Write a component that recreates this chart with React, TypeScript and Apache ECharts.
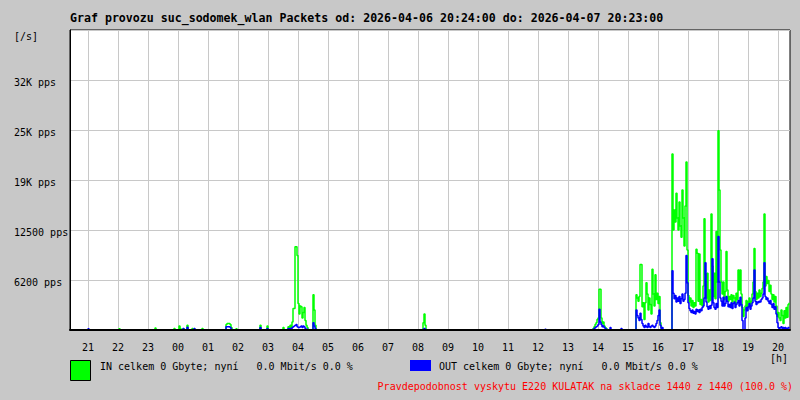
import React, { useEffect, useRef } from "react";
import * as echarts from "echarts";

// ---------- texts ----------
const TITLE =
  "Graf provozu suc_sodomek_wlan Packets od: 2026-04-06 20:24:00 do: 2026-04-07 20:23:00";
const Y_UNIT = "[/s]";
const X_UNIT = "[h]";
const IN_LEGEND = "IN celkem 0 Gbyte; nyní   0.0 Mbit/s 0.0 %";
const OUT_LEGEND = "OUT celkem 0 Gbyte; nyní   0.0 Mbit/s 0.0 %";
const FOOTNOTE = "Pravdepodobnost vyskytu E220 KULATAK na skladce 1440 z 1440 (100.0 %)";

// ---------- axes ----------
const SPAN_MIN = 1440; // graph spans 24h from 20:24
const STEP_MIN = 2; // one sample every 2 minutes
const hourLabels = [
  "21", "22", "23", "00", "01", "02", "03", "04", "05", "06", "07", "08",
  "09", "10", "11", "12", "13", "14", "15", "16", "17", "18", "19", "20",
];
const firstFullHourMin = 36; // 21:00 is 36 minutes after 20:24
const Y_MAX = 37500;
const Y_STEP = 6250;
const yTickValues = [6250, 12500, 18750, 25000, 31250];
const yTickLabels = ["6200 pps", "12500 pps", "19K pps", "25K pps", "32K pps"];

// ---------- data (minutes after 20:24, packets per second) ----------
// small night blips: [minute, in, out]
const nightBlips: [number, number, number][] = [
  [36, 0, 150], [98, 150, 0], [170, 250, 0], [208, 200, 0], [218, 500, 0],
  [220, 200, 0], [226, 150, 200], [234, 600, 350], [244, 200, 0], [248, 100, 200],
  [264, 200, 0], [332, 150, 0], [380, 600, 300], [394, 500, 200], [426, 300, 0],
  [950, 0, 100], [1080, 0, 300], [1102, 0, 200],
];
const start0135 = 312;
const in0135 = [700, 800, 800, 800, 700, 300];
const out0135 = [400, 400, 400, 400, 300, 100];

const start0400 = 436;
const in0400 = [400, 300, 600, 300, 1000, 2700, 2700, 10400, 10400, 9300, 3300, 2000, 3000, 2900, 1500, 2200, 2800, 1200, 600, 300, 0, 0, 0, 0, 0, 4400, 2500, 600];
const out0400 = [200, 0, 200, 100, 300, 400, 500, 600, 700, 400, 300, 300, 400, 500, 300, 500, 400, 200, 100, 100, 0, 0, 0, 0, 0, 900, 500, 200];

const start0800 = 706;
const in0800 = [900, 2000, 600];
const out0800 = [100, 200, 100];

const start1400 = 1046;
const in1400 = [200, 400, 700, 900, 1300, 1500, 5100, 5100, 1500, 800, 1000, 500, 300, 200];
const out1400 = [100, 200, 300, 400, 500, 700, 2600, 1000, 700, 400, 500, 300, 200, 100];

const start1516 = 1132;
const in1516 = [4400, 4000, 3600, 4200, 8200, 8200, 2900, 3400, 1300, 3400, 5900, 4500, 2500, 4000, 3200, 2000, 7600, 4500, 3000, 6900, 3800, 4600, 3300, 4200, 900, 300, 0];
const out1516 = [2500, 1800, 1500, 1200, 2100, 1300, 800, 500, 300, 600, 400, 300, 800, 400, 300, 500, 600, 400, 300, 500, 800, 1200, 1800, 2500, 600, 200, 300];

const start1628 = 1204;
const in1628 = [
  22000, 12500, 15000, 13500, 17100, 14000, 12500, 16000, 13000, 11600,
  17500, 14000, 10500, 15500, 21000, 10000, 4300, 3500, 4000, 3000,
  3700, 2800, 3400, 3000, 10100, 9600, 3600, 9500, 3200, 3800,
  3000, 5500, 13900, 7000, 4000, 7100, 3500, 5000, 3700, 14500,
  8000, 4200, 7100, 3900, 12300, 6000, 24900, 17500, 10000, 6000,
  4500, 6000, 3800, 4800, 9800, 5000, 3600, 4200,
];
const out1628 = [
  7400, 4600, 3900, 4300, 3500, 4000, 3600, 4200, 3300, 3900,
  4500, 3600, 3800, 4600, 9300, 5900, 3400, 2700, 2400, 2200,
  2500, 2100, 2300, 2000, 2600, 2300, 2500, 2200, 2600, 2400,
  2800, 3000, 4000, 8400, 3500, 2900, 2600, 3000, 2700, 3100,
  8900, 3400, 2800, 2600, 3300, 2800, 11700, 6000, 4000, 3600,
  3000, 4100, 3000, 3300, 4200, 3600, 2900, 3200,
];

const start1824 = 1320;
const in1824 = [
  3800, 4400, 3500, 4300, 4000, 3300, 4600, 3800, 7500, 5000,
  7500, 4500, 2800, 1700, 2500, 3000, 3700, 2800, 3500, 4000,
  3200, 3600, 4500, 6000, 10200, 4800, 3800, 4600, 4000, 5000,
  4200, 4600, 5200, 6000, 14500, 5500, 6700, 5800, 6200, 4800,
  5600, 4500, 3800, 4400, 3500, 4200, 3000, 1700, 2200, 1500,
  1200, 2500, 1800, 800, 2400, 1500, 2800, 1600, 3200, 3400,
];
const out1824 = [
  2800, 3400, 2700, 3300, 3500, 2800, 3200, 3400, 3700, 3000,
  4100, 3200, 1200, 0, 0, 1500, 2800, 2400, 2900, 3300,
  2600, 3000, 3400, 4000, 7500, 3600, 3200, 3500, 3400, 3600,
  3500, 3800, 4000, 4500, 8400, 4200, 3800, 4000, 3600, 3300,
  3700, 3200, 2800, 3300, 2600, 2900, 2000, 900, 300, 0,
  300, 400, 200, 300, 200, 300, 200, 100, 300, 200,
];

const inBursts: [number, number[]][] = [
  [start0135, in0135], [start0400, in0400], [start0800, in0800],
  [start1400, in1400], [start1516, in1516], [start1628, in1628], [start1824, in1824],
];
const outBursts: [number, number[]][] = [
  [start0135, out0135], [start0400, out0400], [start0800, out0800],
  [start1400, out1400], [start1516, out1516], [start1628, out1628], [start1824, out1824],
];

function buildSeries(bursts: [number, number[]][], blipIdx: 1 | 2) {
  const n = SPAN_MIN / STEP_MIN;
  const vals: number[] = new Array(n).fill(0);
  for (const b of nightBlips) vals[b[0] / STEP_MIN] = b[blipIdx];
  for (const [start, arr] of bursts) {
    arr.forEach((v, i) => {
      vals[start / STEP_MIN + i] = v;
    });
  }
  return vals.map((v, i) => [i * STEP_MIN, v]);
}

const MONO = "'DejaVu Sans Mono', 'Liberation Mono', monospace";

export default function App() {
  const ref = useRef<HTMLDivElement>(null);
  useEffect(() => {
    if (!ref.current) return;
    const chart = echarts.init(ref.current, undefined, { renderer: "svg" });
    const hourTickMinutes = hourLabels.map((_, i) => firstFullHourMin + 60 * i);
    const yLabelMap: Record<number, string> = {};
    yTickValues.forEach((v, i) => (yLabelMap[v] = yTickLabels[i]));

    chart.setOption({
      animation: false,
      backgroundColor: "#c8c8c8",
      grid: {
        left: 70,
        right: 10,
        top: 30,
        bottom: 70,
        show: true,
        backgroundColor: "#ffffff",
        borderColor: "#000000",
        borderWidth: 1,
      },
      xAxis: [
        {
          type: "value",
          position: "bottom",
          min: 0,
          max: SPAN_MIN,
          axisLine: { show: false },
          axisTick: { show: false, customValues: hourTickMinutes },
          axisLabel: {
            customValues: hourTickMinutes,
            margin: 13,
            lineHeight: 8,
            fontFamily: MONO,
            fontSize: 10,
            color: "#000",
            formatter: (v: number) => {
              const idx = hourTickMinutes.indexOf(v);
              return idx >= 0 ? hourLabels[idx] : "";
            },
          },
          splitLine: { show: true, lineStyle: { color: "#c8c8c8", width: 1 } },
        },
        {
          type: "value",
          position: "bottom",
          min: 0,
          max: SPAN_MIN,
          z: 10,
          axisLine: { show: true, lineStyle: { color: "#000", width: 2 } },
          axisTick: { show: false },
          axisLabel: { show: false },
          splitLine: { show: false },
        },
      ],
      yAxis: {
        type: "value",
        min: 0,
        max: Y_MAX,
        interval: Y_STEP,
        axisLine: { show: true, lineStyle: { color: "#000", width: 1 } },
        axisTick: { show: false },
        axisLabel: {
          align: "left",
          verticalAlign: "top",
          lineHeight: 4,
          margin: 56,
          fontFamily: MONO,
          fontSize: 10,
          color: "#000",
          formatter: (v: number) => yLabelMap[v] ?? "",
        },
        splitLine: { show: true, lineStyle: { color: "#c8c8c8", width: 1 } },
      },
      series: [
        {
          name: "IN",
          type: "line",
          step: "end",
          xAxisIndex: 0,
          data: buildSeries(inBursts, 1),
          showSymbol: false,
          symbol: "none",
          silent: true,
          lineStyle: { color: "#00ff00", width: 1.5 },
          z: 2,
        },
        {
          name: "OUT",
          type: "line",
          step: "end",
          xAxisIndex: 0,
          data: buildSeries(outBursts, 2),
          showSymbol: false,
          symbol: "none",
          silent: true,
          lineStyle: { color: "#0000ff", width: 1.5 },
          z: 3,
        },
      ],
      graphic: [
        {
          type: "text",
          left: 70,
          top: 12,
          style: { text: TITLE, font: `bold 11.6px ${MONO}`, fill: "#000" },
        },
        {
          type: "text",
          left: 14,
          top: 31,
          style: { text: Y_UNIT, font: `10px ${MONO}`, fill: "#000" },
        },
        {
          type: "text",
          left: 770,
          top: 353,
          style: { text: X_UNIT, font: `10px ${MONO}`, fill: "#000", lineHeight: 8 },
        },
        {
          type: "rect",
          shape: { x: 70.5, y: 360.5, width: 20, height: 20 },
          style: { fill: "#00ff00", stroke: "#000", lineWidth: 1 },
        },
        {
          type: "text",
          left: 100,
          top: 361,
          style: { text: IN_LEGEND, font: `10px ${MONO}`, fill: "#000" },
        },
        {
          type: "rect",
          shape: { x: 410, y: 360, width: 21, height: 11 },
          style: { fill: "#0000ff" },
        },
        {
          type: "text",
          left: 439,
          top: 361,
          style: { text: OUT_LEGEND, font: `10px ${MONO}`, fill: "#000" },
        },
        {
          type: "text",
          right: 7,
          top: 381,
          style: { text: FOOTNOTE, font: `10px ${MONO}`, fill: "#ff0000" },
        },
      ],
    });
    return () => chart.dispose();
  }, []);
  return (
    <div
      ref={ref}
      style={{ position: "fixed", left: 0, top: 0, width: 800, height: 400 }}
    />
  );
}
